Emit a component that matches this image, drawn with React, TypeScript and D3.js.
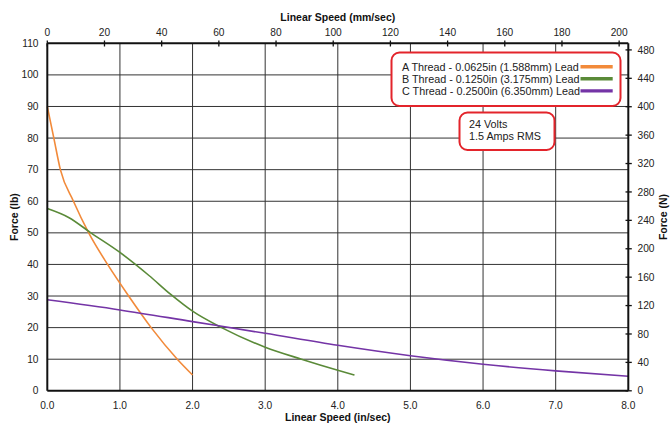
import React from "react";
import * as d3 from "d3";

const xTicksIn = [0, 1, 2, 3, 4, 5, 6, 7, 8];
const yTicksLb = [0, 10, 20, 30, 40, 50, 60, 70, 80, 90, 100, 110];
const topTicksMm = [0, 20, 40, 60, 80, 100, 120, 140, 160, 180, 200];
const rightTicksN = [0, 40, 80, 120, 160, 200, 240, 280, 320, 360, 400, 440, 480];

const seriesAX = [0, 0.09, 0.18, 0.36, 0.57, 0.83, 1.12, 1.43, 1.79, 2.0];
const seriesAY = [90, 80, 70, 60, 50, 40, 30, 20, 10, 5];
const seriesBX = [0, 0.3, 0.6, 1.0, 1.4, 1.7, 2.0, 2.4, 3.0, 3.5, 4.0, 4.23];
const seriesBY = [57.7, 54.8, 50, 43.8, 36.5, 30.5, 25.2, 20, 13.8, 10, 6.5, 5];
const seriesCX = [0, 1, 2, 3, 4, 5, 6, 7, 8];
const seriesCY = [28.8, 25.6, 21.9, 18.2, 14.4, 11.1, 8.4, 6.3, 4.6];

const legendLabels = [
  "A Thread - 0.0625in (1.588mm) Lead",
  "B Thread - 0.1250in (3.175mm) Lead",
  "C Thread - 0.2500in (6.350mm) Lead",
];
const colors = ["#F28A3A", "#5A8A38", "#7434A6"];
const noteLines = ["24 Volts", "1.5 Amps RMS"];

const W = 671, H = 424;
const X0 = 47.3, X1 = 628.3, Y0 = 390.8, Y1 = 43.3;
const font = "'Liberation Sans', Arial, sans-serif";

export default function App() {
  const x = d3.scaleLinear().domain([0, 8]).range([X0, X1]);
  const y = d3.scaleLinear().domain([0, 110]).range([Y0, Y1]);
  const xTop = d3.scaleLinear().domain([0, 8 * 25.4]).range([X0, X1]);
  const yRight = d3.scaleLinear().domain([0, 110 * 4.44822]).range([Y0, Y1]);

  const line = d3
    .line<[number, number]>()
    .x((d) => x(d[0]))
    .y((d) => y(d[1]))
    .curve(d3.curveMonotoneX);

  const series = [
    d3.zip(seriesAX, seriesAY) as [number, number][],
    d3.zip(seriesBX, seriesBY) as [number, number][],
    d3.zip(seriesCX, seriesCY) as [number, number][],
  ];

  return (
    <svg
      width={W}
      height={H}
      style={{ position: "absolute", left: 0, top: 0, background: "#fff" }}
      fontFamily={font}
    >
      {xTicksIn.slice(1, -1).map((t) => (
        <line key={"gx" + t} x1={x(t)} x2={x(t)} y1={Y1} y2={Y0} stroke="#333" strokeWidth={1} />
      ))}
      {yTicksLb.slice(1, -1).map((t) => (
        <line key={"gy" + t} x1={X0} x2={X1} y1={y(t)} y2={y(t)} stroke="#333" strokeWidth={1} />
      ))}

      {series.map((s, i) => (
        <path key={"s" + i} d={line(s) || ""} fill="none" stroke={colors[i]} strokeWidth={1.6} />
      ))}

      <line x1={X0} x2={X0} y1={Y1} y2={Y0} stroke="#111" strokeWidth={2} />
      <line x1={X1} x2={X1} y1={Y1} y2={Y0} stroke="#111" strokeWidth={2} />
      <line x1={X0} x2={X1} y1={Y0} y2={Y0} stroke="#111" strokeWidth={2} />
      <line x1={X0} x2={X1} y1={Y1} y2={Y1} stroke="#111" strokeWidth={2} />

      {topTicksMm.map((t) => (
        <g key={"tt" + t}>
          <line x1={xTop(t)} x2={xTop(t)} y1={40.5} y2={46.5} stroke="#111" strokeWidth={1.3} />
          <text x={xTop(t)} y={35.5} textAnchor="middle" fontSize={10.2} fill="#222">
            {t}
          </text>
        </g>
      ))}
      {rightTicksN.map((t) => (
        <g key={"rt" + t}>
          <line x1={625.5} x2={631.8} y1={yRight(t)} y2={yRight(t)} stroke="#111" strokeWidth={1.3} />
          <text x={637.5} y={yRight(t) + 3.6} textAnchor="start" fontSize={10.2} fill="#222">
            {t}
          </text>
        </g>
      ))}
      {yTicksLb.map((t) => (
        <text key={"lt" + t} x={38.5} y={y(t) + 3.6} textAnchor="end" fontSize={10.2} fill="#222">
          {t}
        </text>
      ))}
      {xTicksIn.map((t) => (
        <text key={"bt" + t} x={x(t)} y={408.5} textAnchor="middle" fontSize={10.2} fill="#222">
          {t.toFixed(1)}
        </text>
      ))}

      <text x={(X0 + X1) / 2} y={21} textAnchor="middle" fontSize={10.5} fontWeight="bold" fill="#111">
        Linear Speed (mm/sec)
      </text>
      <text x={(X0 + X1) / 2} y={421} textAnchor="middle" fontSize={10.5} fontWeight="bold" fill="#111">
        Linear Speed (in/sec)
      </text>
      <text
        transform={`translate(17.5,${(Y0 + Y1) / 2}) rotate(-90)`}
        textAnchor="middle"
        fontSize={10.5}
        fontWeight="bold"
        fill="#111"
      >
        Force (lb)
      </text>
      <text
        transform={`translate(667,${(Y0 + Y1) / 2}) rotate(-90)`}
        textAnchor="middle"
        fontSize={10.5}
        fontWeight="bold"
        fill="#111"
      >
        Force (N)
      </text>

      <rect x={391.5} y={52.5} width={229} height={53.5} rx={8} ry={8} fill="#fff" stroke="#E3242B" strokeWidth={2} />
      {legendLabels.map((l, i) => (
        <g key={"lg" + i}>
          <text x={402} y={70.7 + i * 12.15} fontSize={10.8} fill="#222">
            {l}
          </text>
          <line x1={580.5} x2={612.7} y1={66.7 + i * 12.1} y2={66.7 + i * 12.1} stroke={colors[i]} strokeWidth={3.4} />
        </g>
      ))}

      <rect x={459.5} y={112.5} width={95} height={37.5} rx={8} ry={8} fill="#fff" stroke="#E3242B" strokeWidth={2} />
      {noteLines.map((l, i) => (
        <text key={"nt" + i} x={469} y={128.3 + i * 12} fontSize={10.8} fill="#222">
          {l}
        </text>
      ))}
    </svg>
  );
}
